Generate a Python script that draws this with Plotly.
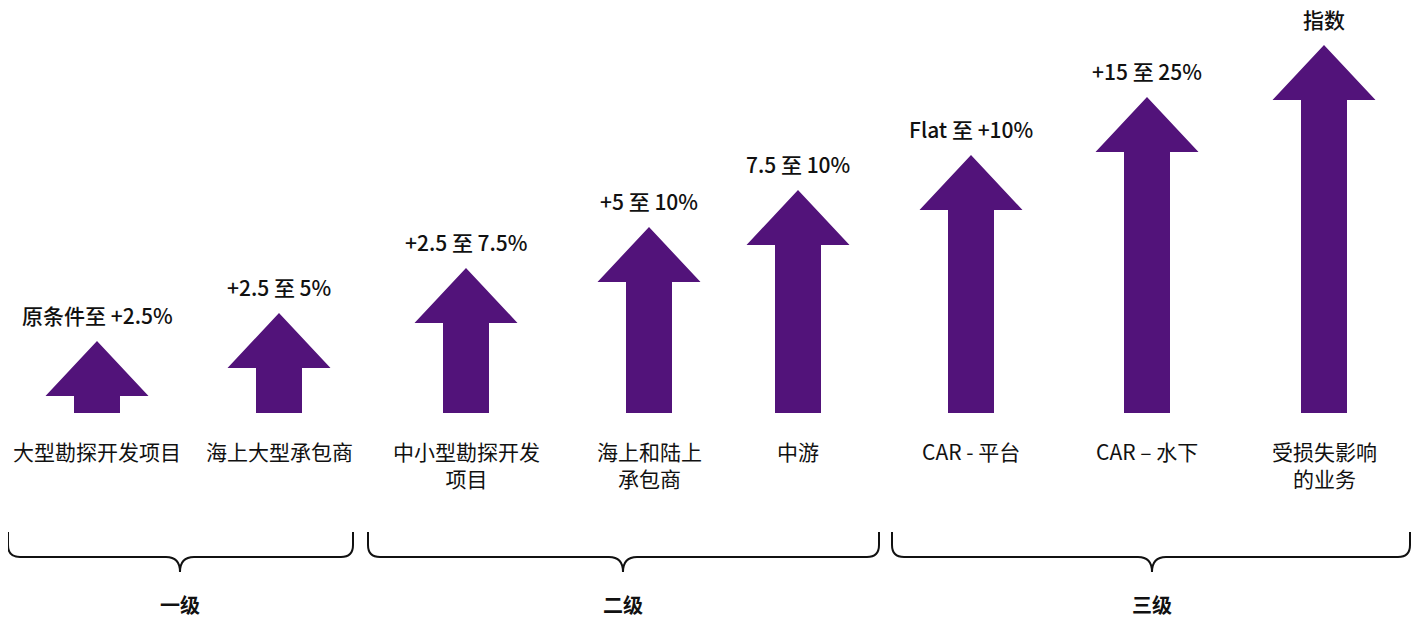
import plotly.graph_objects as go

# ---------------- data ----------------
categories = ["大型勘探开发项目", "海上大型承包商", "中小型勘探开发<br>项目", "海上和陆上<br>承包商",
              "中游", "CAR - 平台", "CAR – 水下", "受损失影响<br>的业务"]
rate_labels = ["原条件至 +2.5%", "+2.5 至 5%", "+2.5 至 7.5%", "+5 至 10%",
               "7.5 至 10%", "Flat 至 +10%", "+15 至 25%", "指数"]
arrow_heights = [72, 100, 145, 186, 223, 258, 316, 368]   # relative rate-increase magnitude
tiers = ["一级", "二级", "三级"]

# ---------------- layout constants ----------------
W, H = 1424, 617
PAGE_OFF = 8                    # default body margin of the html page
BASE = 413                      # pixel row of arrow bases
x_pos = [97, 279, 466, 649, 798, 971, 1147, 1324]
brace_ext = [(8, 353), (368, 879), (892, 1410)]
brace_mid = [180, 623, 1152]
PURPLE = "#52137A"
SHAFT_HALF, HEAD_HALF, HEAD_H = 23, 51.5, 55
FONT = "Noto Sans CJK SC, Noto Sans, sans-serif"
FONT_MED = "Noto Sans CJK SC Medium, Noto Sans CJK SC, Noto Sans, sans-serif"

fig = go.Figure()

for cx, h in zip(x_pos, arrow_heights):
    xs = [cx - SHAFT_HALF, cx - SHAFT_HALF, cx - HEAD_HALF, cx, cx + HEAD_HALF,
          cx + SHAFT_HALF, cx + SHAFT_HALF, cx - SHAFT_HALF]
    ys = [0, h - HEAD_H, h - HEAD_H, h, h - HEAD_H, h - HEAD_H, 0, 0]
    fig.add_trace(go.Scatter(x=xs, y=ys, mode="lines", fill="toself", fillcolor=PURPLE,
                             line=dict(width=0, color=PURPLE), hoverinfo="skip",
                             showlegend=False))

annotations = []
for cx, h, lab in zip(x_pos, arrow_heights, rate_labels):
    annotations.append(dict(x=cx, y=h + 9, text=lab, showarrow=False, xanchor="center",
                            yanchor="bottom",
                            font=dict(family=FONT_MED, size=21, color="#111111", weight=500)))
for cx, cat in zip(x_pos, categories):
    annotations.append(dict(x=cx, y=-21, text=cat, showarrow=False, xanchor="center",
                            yanchor="top", align="center",
                            font=dict(family=FONT, size=21, color="#111111")))

shapes = []
top, horiz, tip = BASE - 532, BASE - 557, BASE - 572
r = 12
for (L, R), C, t in zip(brace_ext, brace_mid, tiers):
    path = (f"M {L},{top} L {L},{horiz + r} Q {L},{horiz} {L + r},{horiz} "
            f"L {C - 14},{horiz} Q {C},{horiz} {C},{tip} "
            f"Q {C},{horiz} {C + 14},{horiz} L {R - r},{horiz} "
            f"Q {R},{horiz} {R},{horiz + r} L {R},{top}")
    shapes.append(dict(type="path", path=path, xref="x", yref="y",
                       line=dict(color="#111111", width=2)))
    annotations.append(dict(x=C, y=BASE - 604, text=t, showarrow=False, xanchor="center",
                            yanchor="middle",
                            font=dict(family=FONT, size=20, color="#111111", weight=700)))

fig.update_layout(
    width=W - PAGE_OFF, height=H - PAGE_OFF, margin=dict(l=0, r=0, t=0, b=0),
    paper_bgcolor="white", plot_bgcolor="white",
    xaxis=dict(range=[PAGE_OFF, W], visible=False, fixedrange=True),
    yaxis=dict(range=[BASE - H, BASE - PAGE_OFF], visible=False, fixedrange=True),
    annotations=annotations, shapes=shapes, showlegend=False,
)

fig.write_html("out.html")
